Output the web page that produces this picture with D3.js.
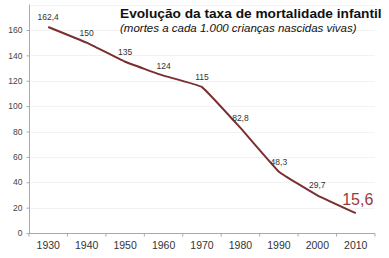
<!DOCTYPE html>
<html>
<head>
<meta charset="utf-8">
<script src="https://cdn.jsdelivr.net/npm/d3@7"></script>
<style>
	body { margin: 0; background: #fff; }
	svg { display: block; font-family: "Liberation Sans", Arial, sans-serif; }
</style>
</head>
<body>
<svg id="chart" width="389" height="258"></svg>
<script>

var years	=	['1930', '1940', '1950', '1960', '1970', '1980', '1990', '2000', '2010'];
var rates	=	[162.4, 150, 135, 124, 115, 82.8, 48.3, 29.7, 15.6];
var labels	=	['162,4', '150', '135', '124', '115', '82,8', '48,3', '29,7', '15,6'];
var yTicks	=	[0, 20, 40, 60, 80, 100, 120, 140, 160];

var svg = d3.select('#chart');

var x = d3.scaleBand().domain(years).range([29, 375]);
var y = d3.scaleLinear().domain([0, 160]).range([233, 30]);

// grid
svg.append('g')
	.selectAll('line')
	.data(yTicks.slice(1).concat([180]))
	.enter().append('line')
	.attr('x1', 29).attr('x2', 375)
	.attr('y1', function(d) { return Math.round(y(d)) + 0.5; })
	.attr('y2', function(d) { return Math.round(y(d)) + 0.5; })
	.attr('stroke', '#f2f2f2');

// y axis
var yAxis = svg.append('g')
	.attr('transform', 'translate(29.5,0)')
	.call(d3.axisLeft(y).tickValues(yTicks).tickSize(3).tickPadding(4));
yAxis.select('.domain').attr('stroke', '#aaa').attr('d', 'M0,' + y(180) + 'V' + y(0));
yAxis.selectAll('.tick line').attr('stroke', '#aaa');
yAxis.selectAll('text').attr('fill', '#444').style('font-size', '8.5px');

// x axis
var xAxis = svg.append('g')
	.attr('transform', 'translate(0,' + (Math.round(y(0)) + 0.5) + ')')
	.call(d3.axisBottom(x).tickSize(0).tickPadding(8));
xAxis.select('.domain').attr('stroke', '#aaa').attr('d', 'M29,0H375');
xAxis.selectAll('text').attr('fill', '#333').style('font-size', '10.5px');
xAxis.selectAll('.sep')
	.data(years.concat(['end']))
	.enter().append('line')
	.attr('class', 'sep')
	.attr('x1', function(d, i) { return 29 + i * x.bandwidth(); })
	.attr('x2', function(d, i) { return 29 + i * x.bandwidth(); })
	.attr('y1', 0).attr('y2', 3)
	.attr('stroke', '#aaa');

// line
var line = d3.line()
	.x(function(d, i) { return x(years[i]) + x.bandwidth() / 2; })
	.y(function(d) { return y(d); })
	.curve(d3.curveCardinal.tension(0.75));

svg.append('path')
	.datum(rates)
	.attr('d', line)
	.attr('fill', 'none')
	.attr('stroke', '#7a2f30')
	.attr('stroke-width', 2);

// value labels
svg.append('g')
	.selectAll('text')
	.data(rates)
	.enter().append('text')
	.attr('x', function(d, i) { return x(years[i]) + x.bandwidth() / 2 + (i == 8 ? 2 : 0); })
	.attr('y', function(d, i) { return y(d) - (i == 8 ? 8 : 7); })
	.attr('text-anchor', 'middle')
	.attr('fill', function(d, i) { return i == 8 ? '#9b3a3c' : '#333'; })
	.style('font-size', function(d, i) { return i == 8 ? '16px' : '8.5px'; })
	.text(function(d, i) { return labels[i]; });

// titles
svg.append('text')
	.attr('x', 120).attr('y', 18)
	.style('font-size', '13.7px').style('font-weight', 'bold')
	.attr('fill', '#111')
	.text('Evolução da taxa de mortalidade infantil');

svg.append('text')
	.attr('x', 120).attr('y', 32)
	.style('font-size', '11.5px').style('font-style', 'italic')
	.attr('fill', '#111')
	.text('(mortes a cada 1.000 crianças nascidas vivas)');

</script>
</body>
</html>
